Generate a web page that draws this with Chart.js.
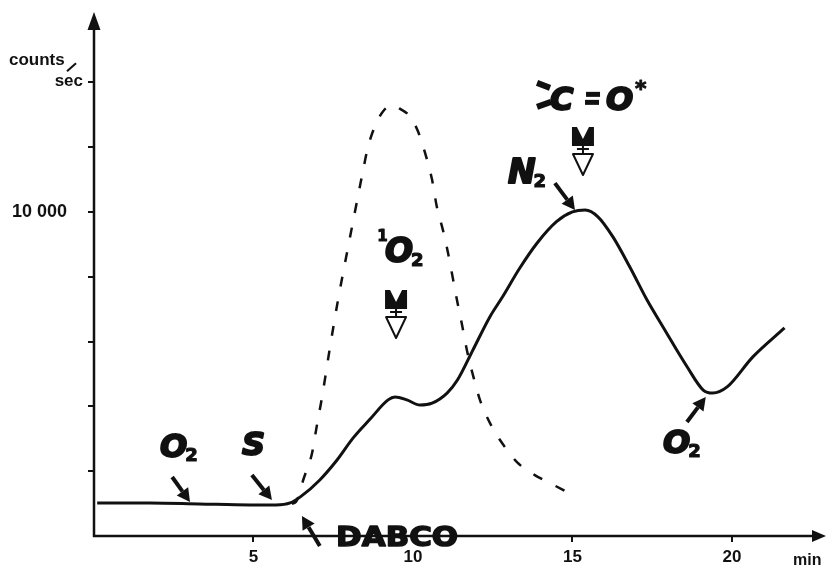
<!DOCTYPE html>
<html>
<head>
<meta charset="utf-8">
<script src="https://cdn.jsdelivr.net/npm/chart.js@4.4.1/dist/chart.umd.min.js"></script>
<style>
  html, body { margin: 0; padding: 0; background: #fff; }
  #wrap { width: 828px; height: 569px; }
</style>
</head>
<body>
<div id="wrap"><canvas id="chart" width="828" height="569"></canvas></div>
<script>
// Curva continua (cuentas/s frente a min)
const solidTime = [0.1, 1.75, 3.3, 4.9, 5.7, 6.15, 6.5, 7.08, 7.62, 8.12, 8.65, 9.22, 9.44, 9.81, 10.22, 10.6, 11.07, 11.4, 11.88, 12.41, 12.79, 13.35, 13.9, 14.5, 15.0, 15.4, 15.8, 16.27, 16.8, 17.34, 17.84, 18.6, 19.1, 19.4, 19.85, 20.65, 21.65];
const solidCounts = [1020, 1020, 990, 960, 960, 1020, 1230, 1730, 2345, 3020, 3600, 4200, 4290, 4200, 4040, 4100, 4410, 4820, 5740, 6760, 7350, 8270, 9050, 9700, 10000, 10060, 9850, 9230, 8300, 7280, 6450, 5215, 4505, 4410, 4600, 5520, 6420];

// Curva discontinua
const dashTime = [6.2, 6.33, 6.58, 6.83, 6.99, 7.15, 7.4, 7.65, 7.93, 8.18, 8.4, 8.59, 8.81, 9.06, 9.34, 9.6, 9.9, 10.16, 10.38, 10.6, 10.75, 10.94, 11.1, 11.38, 11.54, 11.69, 11.88, 12.1, 12.48, 12.88, 13.26, 13.82, 14.36, 14.83];
const dashCounts = [1000, 1050, 1790, 2530, 3425, 4290, 5830, 7280, 8730, 10000, 11100, 12000, 12650, 13100, 13290, 13180, 12950, 12480, 11820, 10990, 10150, 9440, 8730, 7280, 6510, 5740, 4970, 4200, 3360, 2750, 2280, 1880, 1600, 1360];

// Ejes
const xTickLabels = [5, 10, 15, 20];
const yTickValues = [2000, 4000, 6000, 8000, 10000, 12000, 14000];
const yLabelValue = 10000;
const yLabelText = '10 000';
const yUnitValue = 14000;

function toPoints(xs, ys) {
    return xs.map((x, i) => ({ x: x, y: ys[i] }));
}

// Flecha con punta rellena
function arrow(ctx, x1, y1, x2, y2, head, half, width) {
    const a = Math.atan2(y2 - y1, x2 - x1);
    const bx = x2 - head * Math.cos(a), by = y2 - head * Math.sin(a);
    ctx.lineWidth = width;
    ctx.beginPath();
    ctx.moveTo(x1, y1);
    ctx.lineTo(bx, by);
    ctx.stroke();
    ctx.beginPath();
    ctx.moveTo(x2, y2);
    ctx.lineTo(bx + half * Math.sin(a), by - half * Math.cos(a));
    ctx.lineTo(bx - half * Math.sin(a), by + half * Math.cos(a));
    ctx.closePath();
    ctx.fill();
}

// Texto grueso (relleno + trazo)
function heavy(ctx, txt, x, y, stroke) {
    ctx.fillText(txt, x, y);
    ctx.lineWidth = stroke;
    ctx.lineJoin = 'round';
    ctx.strokeText(txt, x, y);
}

// Texto con subindice (O2, N2)
function chem(ctx, main, sub, x, y, size) {
    ctx.font = 'bold italic ' + size + 'px "DejaVu Sans"';
    ctx.textAlign = 'left';
    ctx.textBaseline = 'alphabetic';
    heavy(ctx, main, x, y, 2);
    const w = ctx.measureText(main).width;
    if (sub) {
        ctx.font = 'bold ' + Math.round(size * 0.55) + 'px "DejaVu Sans"';
        heavy(ctx, sub, x + w - 2, y + 4, 1.2);
    }
}

// Simbolo de emision (pajarita + triangulo)
function emitter(ctx, cx, top) {
    ctx.beginPath();
    ctx.moveTo(cx - 11, top);
    ctx.lineTo(cx - 6, top);
    ctx.lineTo(cx, top + 12);
    ctx.lineTo(cx + 6, top);
    ctx.lineTo(cx + 11, top);
    ctx.lineTo(cx + 11, top + 19);
    ctx.lineTo(cx - 11, top + 19);
    ctx.closePath();
    ctx.fill();
    ctx.lineWidth = 2;
    ctx.beginPath();
    ctx.moveTo(cx, top + 19);
    ctx.lineTo(cx, top + 27);
    ctx.moveTo(cx - 6, top + 22);
    ctx.lineTo(cx + 6, top + 22);
    ctx.stroke();
    ctx.beginPath();
    ctx.moveTo(cx - 10, top + 27);
    ctx.lineTo(cx + 10, top + 27);
    ctx.lineTo(cx, top + 48);
    ctx.closePath();
    ctx.stroke();
}

const decor = {
    id: 'decor',
    afterDraw(chart) {
        const ctx = chart.ctx;
        const xs = chart.scales.x, ys = chart.scales.y;
        const X = v => xs.getPixelForValue(v);
        const Y = v => ys.getPixelForValue(v);
        const ca = chart.chartArea;
        ctx.save();
        ctx.fillStyle = '#111';
        ctx.strokeStyle = '#111';
        ctx.lineCap = 'butt';

        // ejes con flechas
        arrow(ctx, ca.left, ca.bottom + 1, ca.left, ca.top, 18, 6.5, 2.5);
        arrow(ctx, ca.left - 1, ca.bottom, ca.right, ca.bottom, 14, 6, 2.5);

        // etiquetas eje y
        ctx.font = 'bold 18px "Liberation Sans"';
        ctx.textAlign = 'right';
        ctx.textBaseline = 'middle';
        ctx.fillText(yLabelText, 67, Y(yLabelValue));
        ctx.font = 'bold 17px "Liberation Sans"';
        ctx.fillText('sec', 83, Y(yUnitValue) - 1);
        ctx.textAlign = 'left';
        ctx.fillText('counts', 9, Y(yUnitValue) - 22);
        ctx.lineWidth = 2;
        ctx.beginPath();
        ctx.moveTo(67, Y(yUnitValue) - 11);
        ctx.lineTo(76, Y(yUnitValue) - 19);
        ctx.stroke();
        ctx.font = 'bold 16px "Liberation Sans"';
        ctx.fillText('min', 793, 561);

        // anotaciones
        chem(ctx, 'O', '2', X(2.07), Y(2440), 32);
        arrow(ctx, X(2.45), Y(1820), X(3.01), Y(1050), 13, 7, 4);

        ctx.font = 'bold italic 32px "DejaVu Sans"';
        heavy(ctx, 'S', X(4.64), Y(2500), 2);
        arrow(ctx, X(4.95), Y(1880), X(5.58), Y(1110), 13, 7, 4);

        arrow(ctx, X(7.08), Y(-309), X(6.52), Y(617), 13, 7, 4);
        ctx.save();
        ctx.font = 'bold 27px "DejaVu Sans"';
        const dw = ctx.measureText('DABCO').width;
        ctx.translate(X(7.59), Y(-309));
        ctx.scale(122 / dw, 1);
        ctx.textAlign = 'left';
        ctx.textBaseline = 'alphabetic';
        heavy(ctx, 'DABCO', 0, 0, 1.5);
        ctx.restore();

        ctx.font = 'bold 15px "DejaVu Sans"';
        ctx.textAlign = 'left';
        ctx.textBaseline = 'alphabetic';
        heavy(ctx, '1', X(8.88), Y(9100), 1);
        chem(ctx, 'O', '2', X(9.12), Y(8455), 33);
        emitter(ctx, X(9.47), Y(7590));

        chem(ctx, 'N', '2', X(12.98), Y(10890), 33);
        arrow(ctx, X(14.45), Y(10890), X(15.08), Y(10060), 13, 7, 4);

        // >C=O*
        const bx = X(13.89), by = Y(13150);
        ctx.lineWidth = 6;
        ctx.beginPath();
        ctx.moveTo(bx, by - 27);
        ctx.lineTo(bx + 13, by - 22);
        ctx.moveTo(bx, by - 3);
        ctx.lineTo(bx + 14, by - 8);
        ctx.stroke();
        ctx.font = 'bold italic 32px "DejaVu Sans"';
        heavy(ctx, 'C', bx + 13, by, 2);
        ctx.fillRect(bx + 49, by - 18, 14, 5);
        ctx.fillRect(bx + 48, by - 10, 14, 5);
        heavy(ctx, 'O', bx + 69, by, 2);
        ctx.font = 'bold 22px "DejaVu Sans"';
        heavy(ctx, '*', bx + 98, by - 14, 1);
        emitter(ctx, X(15.33), Y(12620));

        chem(ctx, 'O', '2', X(17.84), Y(2560), 32);
        arrow(ctx, X(18.59), Y(3520), X(19.18), Y(4290), 13, 7, 4);

        ctx.restore();
    }
};

new Chart(document.getElementById('chart'), {
    type: 'line',
    data: {
        datasets: [
            {
                data: toPoints(solidTime, solidCounts),
                borderColor: '#111',
                borderWidth: 3,
                pointRadius: 0,
                cubicInterpolationMode: 'monotone',
                fill: false
            },
            {
                data: toPoints(dashTime, dashCounts),
                borderColor: '#111',
                borderWidth: 2.5,
                borderDash: [10, 15],
                pointRadius: 0,
                cubicInterpolationMode: 'monotone',
                fill: false
            }
        ]
    },
    plugins: [decor],
    options: {
        responsive: false,
        animation: false,
        layout: { padding: { left: 0, right: 2, top: 12, bottom: 0 } },
        plugins: { legend: { display: false }, tooltip: { enabled: false } },
        scales: {
            x: {
                type: 'linear',
                min: 0,
                max: 22.95,
                afterFit: s => { s.height = 33; },
                afterBuildTicks: s => { s.ticks = xTickLabels.map(v => ({ value: v })); },
                border: { display: false },
                grid: { drawOnChartArea: false, drawTicks: true, tickLength: 6, color: '#111', lineWidth: 2 },
                ticks: {
                    color: '#111',
                    padding: 5,
                    font: { family: 'Liberation Sans', size: 17, weight: 'bold' },
                    callback: v => String(v)
                }
            },
            y: {
                type: 'linear',
                min: 0,
                max: 16170,
                afterFit: s => { s.width = 94; },
                afterBuildTicks: s => { s.ticks = yTickValues.map(v => ({ value: v })); },
                border: { display: false },
                grid: { drawOnChartArea: false, drawTicks: true, tickLength: 6, color: '#111', lineWidth: 2 },
                ticks: { callback: () => '' }
            }
        }
    }
});
</script>
</body>
</html>
